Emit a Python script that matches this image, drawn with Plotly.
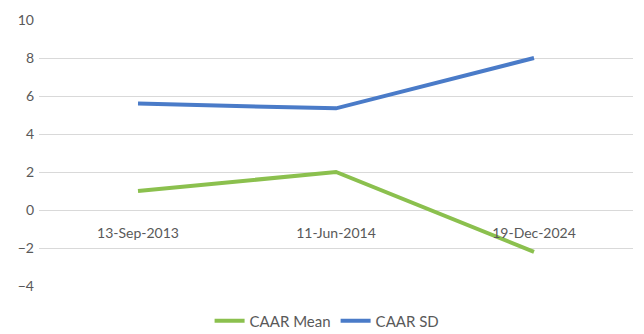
import plotly.graph_objects as go

categories = ["13-Sep-2013", "11-Jun-2014", "19-Dec-2024"]
caar_mean = [1.0, 2.0, -2.2]
caar_sd = [5.6, 5.35, 8.0]
y_ticks = [-4, -2, 0, 2, 4, 6, 8, 10]

FONT = "Lato"
GREY = "#595959"

fig = go.Figure()
fig.add_trace(go.Scatter(x=categories, y=caar_mean, mode="lines", name="CAAR Mean",
                         line=dict(color="#8BC04E", width=4)))
fig.add_trace(go.Scatter(x=categories, y=caar_sd, mode="lines", name="CAAR SD",
                         line=dict(color="#4A7BC8", width=4)))

ymin, ymax = -4, 10
fig.update_layout(
    width=644, height=334,
    margin=dict(l=39, r=11, t=20, b=48, autoexpand=False),
    paper_bgcolor="white", plot_bgcolor="white",
    font=dict(family=FONT, size=14, color=GREY),
    showlegend=True,
    legend=dict(orientation="h", x=0.485, xanchor="center", yref="container",
                y=1 - 321 / 334, yanchor="middle",
                font=dict(family=FONT, size=15, color=GREY)),
    xaxis=dict(type="category", range=[-0.5, 2.5], showgrid=False, showline=False,
               ticks="", anchor="free", position=(0 - ymin) / (ymax - ymin),
               ticklabelstandoff=13,
               tickfont=dict(family=FONT, size=14, color=GREY)),
    yaxis=dict(range=[ymin, ymax], tickvals=y_ticks, showgrid=True, gridcolor="#D9D9D9",
               gridwidth=1, zeroline=False, showline=False, ticks="",
               ticklabelstandoff=4,
               tickfont=dict(family=FONT, size=14, color=GREY)),
)
fig.write_html("out.html")
